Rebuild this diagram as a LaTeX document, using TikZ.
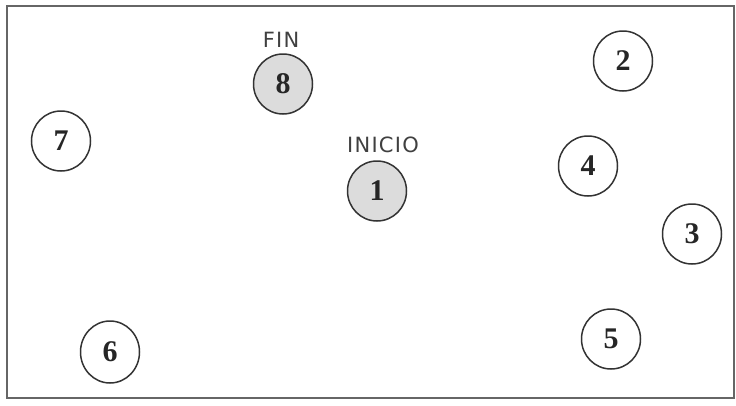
\documentclass[tikz,border=0pt]{standalone}
\usepackage{fontspec}
\setmainfont{Liberation Serif}
\newfontfamily\lblfont[LetterSpace=6]{DejaVu Sans}
\usetikzlibrary{shapes.geometric}
\definecolor{edge}{HTML}{333333}
\definecolor{startfill}{HTML}{DCDCDC}
\tikzset{
  state/.style={ellipse, draw=edge, line width=1.5pt, minimum width=59pt, minimum height=60pt,
    inner sep=0pt, font=\fontsize{30}{30}\selectfont\bfseries, text=black!85},
  special/.style={state, fill=startfill},
  lbl/.style={font=\lblfont\fontsize{21}{21}\selectfont, text=black!75, inner sep=0pt},
  frame/.style={draw=black!60, line width=1.6pt}
}
\begin{document}
\begin{tikzpicture}[x=1pt,y=-1pt]
\useasboundingbox (0,0) rectangle (736,405);
\draw[frame] (7,6) rectangle (734,398);
\node[special] (n8) at (283,84) {8};
\node[special] (n1) at (377,191) {1};
\node[state] (n2) at (623,61) {2};
\node[state] (n4) at (588,166) {4};
\node[state] (n3) at (692,234) {3};
\node[state] (n5) at (611,339) {5};
\node[state, minimum height=62pt] (n6) at (110,352) {6};
\node[state] (n7) at (61,141) {7};
\node[lbl] (fin) at (281,40) {FIN};
\node[lbl] (inicio) at (383,145) {INICIO};
\end{tikzpicture}
\end{document}
